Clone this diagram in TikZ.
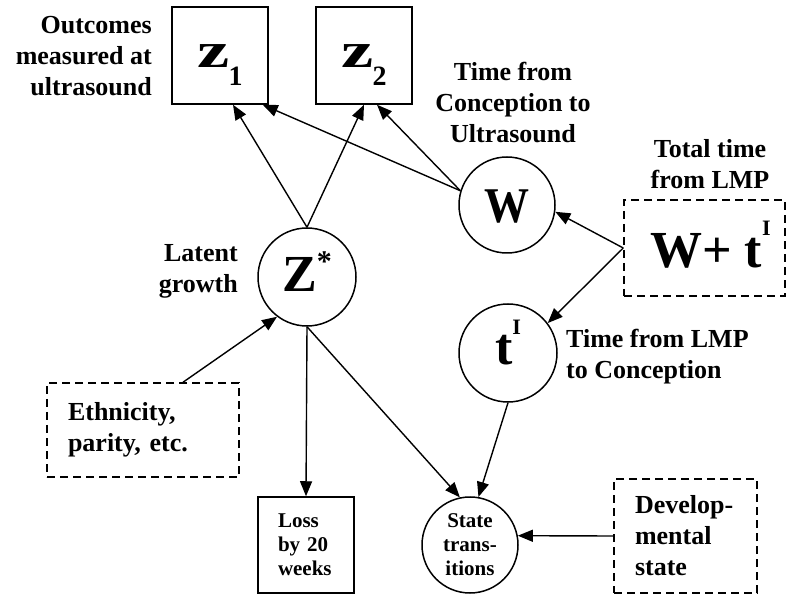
\documentclass[tikz,border=0pt]{standalone}
\usepackage{fontspec}
\setmainfont{Liberation Serif}
\usetikzlibrary{arrows.meta,calc}
\begin{document}
\begin{tikzpicture}[x=1pt,y=-1pt,
  lblfont/.style={font=\bfseries\fontsize{26}{31}\selectfont},
  lbl/.style={lblfont, inner sep=0pt},
  smallfont/.style={font=\bfseries\fontsize{21}{24}\selectfont},
  sq/.style={draw, line width=1.5pt, inner sep=0pt},
  circ/.style={draw, circle, line width=1.5pt, inner sep=0pt},
  dbox/.style={draw, dash pattern=on 8pt off 5pt, line width=1.5pt},
  arr/.style={line width=1.4pt, -{Triangle[length=15pt,width=12pt]}}]
\useasboundingbox (0,0) rectangle (788,596);

% observed outcomes
\node[sq, minimum width=96pt, minimum height=97pt, text height=30pt, text depth=5pt, font=\bfseries] (z1) at (220,55.5)
  {\fontsize{50}{50}\selectfont\scalebox{1.45}[1]{z}\kern-1pt\raisebox{-18pt}{\fontsize{28}{28}\selectfont 1}};
\node[sq, minimum width=96pt, minimum height=97pt, text height=30pt, text depth=5pt, font=\bfseries] (z2) at (364,55.5)
  {\fontsize{50}{50}\selectfont\scalebox{1.45}[1]{z}\kern-1pt\raisebox{-18pt}{\fontsize{28}{28}\selectfont 2}};

% latent nodes
\node[circ, minimum size=96pt, text height=35pt, text depth=0pt, font=\bfseries\fontsize{50}{50}\selectfont] (W) at (507,205)
  {\scalebox{0.9}[1]{W}};
\node[circ, minimum size=98pt, text height=33pt, text depth=3pt, font=\bfseries\fontsize{52}{52}\selectfont] (Zs) at (307,277)
  {Z\raisebox{20pt}{\fontsize{30}{30}\selectfont *}};
\node[circ, minimum size=98pt, text height=28pt, text depth=4pt, font=\bfseries\fontsize{52}{52}\selectfont] (tI) at (508,353)
  {t\raisebox{30pt}{\fontsize{22}{22}\selectfont I}};

% dashed boxes
\node[dbox, inner sep=0pt, minimum width=161pt, minimum height=96pt, text height=45pt, text depth=5pt, font=\bfseries\fontsize{52}{52}\selectfont] (WtI) at (704.5,248)
  {\hspace*{12pt}W+ t\raisebox{32pt}{\fontsize{22}{22}\selectfont I}};
\node[dbox, lblfont, text width=150pt, inner xsep=21pt, inner ysep=0pt, minimum height=94pt, align=left] (eth) at (143,430)
  {Ethnicity,\\parity, etc.};
\node[dbox, lblfont, text width=101pt, inner xsep=21pt, inner ysep=0pt, minimum height=114pt, align=left] (dev) at (685.5,536)
  {Develop-\\mental\\state};

% outcome nodes at bottom
\node[sq, smallfont, text width=56pt, inner xsep=20pt, minimum height=96pt, align=left] (loss) at (306,545)
  {Loss\\by 20\\weeks};
\node[circ, smallfont, minimum size=96pt, align=center] (state) at (470,545)
  {State\\trans-\\itions};

% labels
\node[lbl, align=right, anchor=east] (outc) at (152,56) {Outcomes\\measured at\\ultrasound};
\node[lbl, align=center] (tcu) at (513,103) {Time from\\Conception to\\Ultrasound};
\node[lbl, align=center] (ttl) at (710,164) {Total time\\from LMP};
\node[lbl, align=right, anchor=east] (lat) at (238,271) {Latent\\growth};
\node[lbl, align=left, anchor=west] (tlc) at (566,357) {Time from LMP\\to Conception};

% connectors
\draw[arr] (Zs.north) -- ($(z1.south)+(13,0)$);
\draw[arr] (W.163) -- ($(z1.south east)+(-6,0)$);
\draw[arr] (Zs.north) -- (z2.south);
\draw[arr] (W.163) -- ($(z2.south)+(13,0)$);
\draw[arr] (WtI.west) -- (W.-8);
\draw[arr] (WtI.west) -- (tI.37);
\draw[arr] ($(eth.north)+(40,0)$) -- (Zs.233);
\draw[arr] (Zs.south) -- (loss.north);
\draw[arr] (Zs.south) -- (state.102);
\draw[arr] (tI.south) -- (state.80);
\draw[arr] (dev.west) -- (state.11);
\end{tikzpicture}
\end{document}
